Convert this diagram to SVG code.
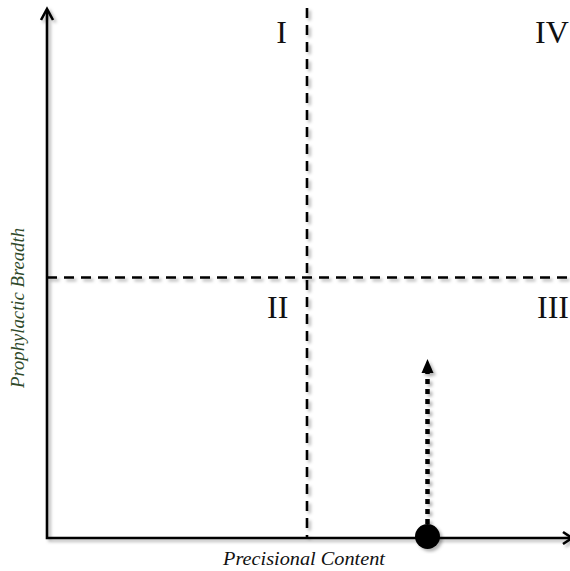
<svg xmlns="http://www.w3.org/2000/svg" width="570" height="571" viewBox="0 0 570 571">
<defs>
<filter id="sh" x="-10%" y="-10%" width="130%" height="130%">
<feDropShadow dx="2.5" dy="2.5" stdDeviation="1.5" flood-color="#000" flood-opacity="0.3"/>
</filter>
</defs>
<style>
.ax{stroke:#000;stroke-width:2.6;fill:none}
.dash{stroke:#000;stroke-width:2.6;fill:none;stroke-dasharray:10 7}
.num{font-family:"Liberation Serif",serif;font-size:32px;fill:#111}
.lbl{font-family:"Liberation Serif",serif;font-style:italic;font-size:18px}
</style>
<rect width="570" height="571" fill="#fff"/>
<g id="connectors" filter="url(#sh)">
<path class="ax" d="M47,10 V538 H571"/>
<path class="ax" d="M41,20 L47,9 L53,20"/>
<path class="ax" d="M563,532 L572,538 L563,544"/>
<path class="dash" d="M307,8 V538"/>
<path class="dash" d="M47,277.5 H570"/>
<path d="M427.5,524 V373" stroke="#000" stroke-width="4.5" stroke-dasharray="5 5" fill="none"/>
<path d="M427.5,359 L433.5,373 L421.5,373 Z" fill="#000"/>
</g>
<g id="point" filter="url(#sh)">
<circle cx="427.5" cy="536.5" r="12.5" fill="#000"/>
</g>
<g id="q1"><text class="num" x="281.5" y="43" text-anchor="middle">I</text></g>
<g id="q4"><text class="num" x="535" y="43">IV</text></g>
<g id="q2"><text class="num" x="267" y="318">II</text></g>
<g id="q3"><text class="num" x="537" y="318">III</text></g>
<g id="xlabel"><text class="lbl" x="223" y="565" fill="#111" textLength="162" lengthAdjust="spacingAndGlyphs">Precisional Content</text></g>
<g id="ylabel"><text class="lbl" transform="translate(24,388) rotate(-90)" x="0" y="0" fill="#2f4a2a" textLength="160" lengthAdjust="spacingAndGlyphs">Prophylactic Breadth</text></g>
</svg>
